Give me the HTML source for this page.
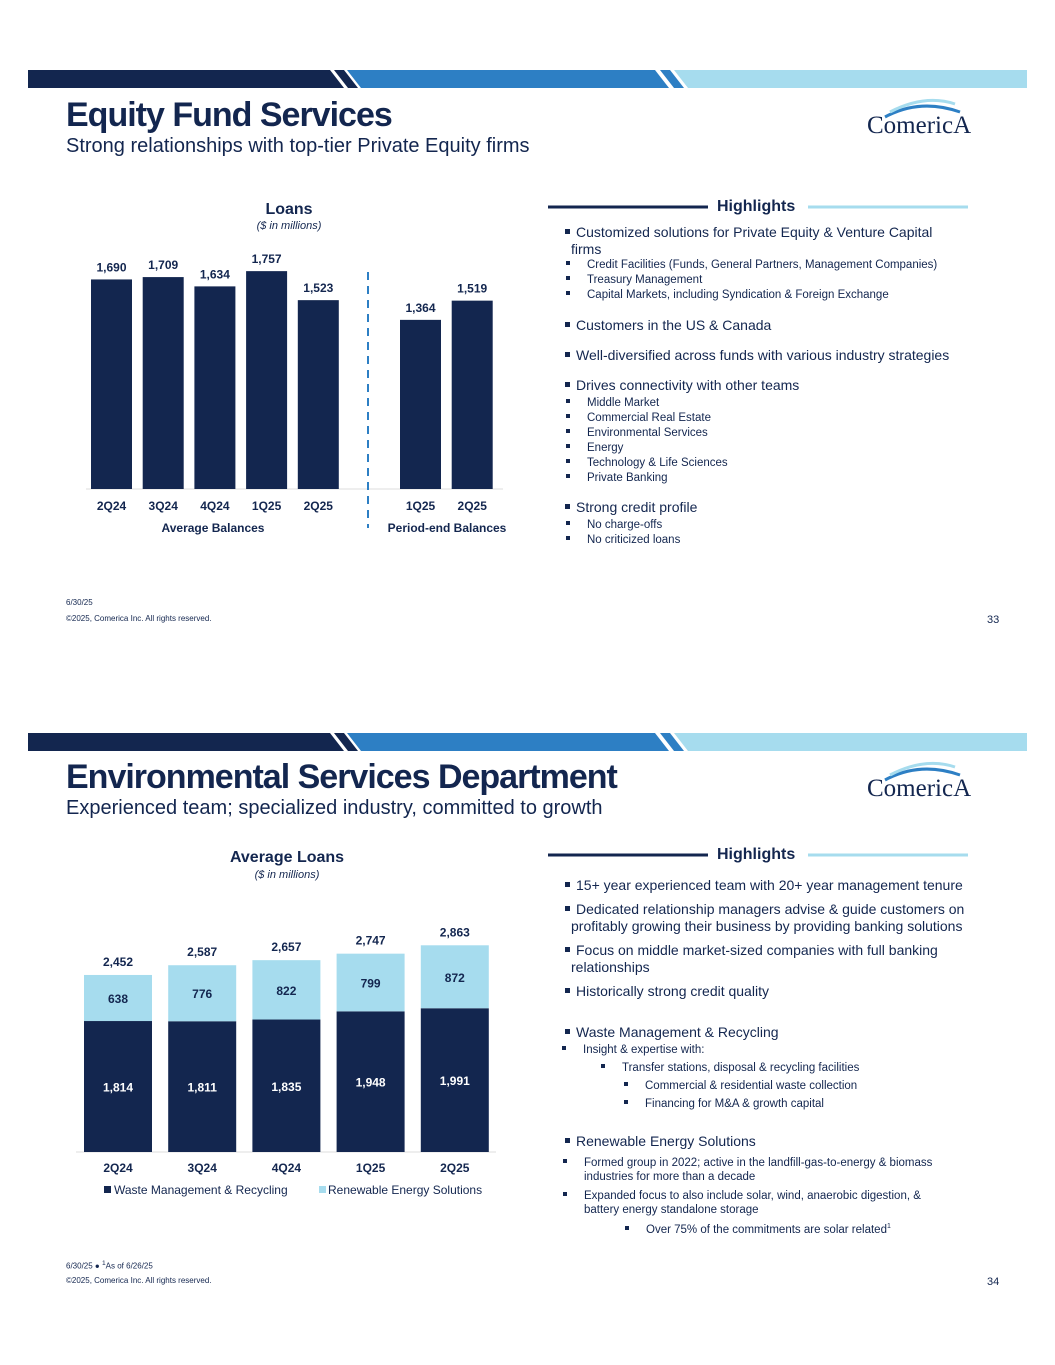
<!DOCTYPE html>
<html><head><meta charset="utf-8"><style>
body{margin:0;width:1055px;height:1365px;background:#fff;position:relative;font-family:"Liberation Sans",sans-serif;color:#13264f;overflow:hidden}
.a{position:absolute;white-space:nowrap}
.t{font-weight:bold;font-size:34px;letter-spacing:-1px;color:#13264f}
.st{font-size:20px;color:#13264f}
.hl{font-size:16px;font-weight:bold}
.b1{font-size:14px;color:#13264f}
.b2{font-size:11.5px;color:#13264f}
.sq{display:inline-block;width:5px;height:5px;background:#13264f;margin-right:6px;vertical-align:middle;position:relative;top:-2px}
.s2{display:inline-block;width:4px;height:4px;background:#13264f;margin-right:17px;vertical-align:middle;position:relative;top:-2px}
.foot{font-size:8px;color:#13264f}
.logo{font-family:"Liberation Serif",serif;font-size:25px;color:#13264f}
</style></head><body>
<svg class="a" style="left:0;top:0" width="1055" height="1365">
 <g>
  <polygon points="28,70 330,70 344,88 28,88" fill="#13264f"/>
  <polygon points="334,70 344,70 358,88 348,88" fill="#13264f"/>
  <polygon points="347,70 655,70 669,88 361,88" fill="#2d7fc4"/>
  <polygon points="660,70 670,70 684,88 674,88" fill="#2d7fc4"/>
  <polygon points="674,70 1027,70 1027,88 688,88" fill="#a6dcee"/>
 </g>
 <g>
  <polygon points="28,733 330,733 344,751 28,751" fill="#13264f"/>
  <polygon points="334,733 344,733 358,751 348,751" fill="#13264f"/>
  <polygon points="347,733 655,733 669,751 361,751" fill="#2d7fc4"/>
  <polygon points="660,733 670,733 684,751 674,751" fill="#2d7fc4"/>
  <polygon points="674,733 1027,733 1027,751 688,751" fill="#a6dcee"/>
 </g>
 <g fill="none">
  <path d="M885,117 Q920,98 960,112" stroke="#2d7fc4" stroke-width="3"/>
  <path d="M890,112 Q925,94 955,104" stroke="#a6dcee" stroke-width="3"/>
  <path d="M885,780 Q920,761 960,775" stroke="#2d7fc4" stroke-width="3"/>
  <path d="M890,775 Q925,757 955,767" stroke="#a6dcee" stroke-width="3"/>
 </g>
 <line x1="548" y1="207" x2="708" y2="207" stroke="#13264f" stroke-width="3"/>
 <line x1="808" y1="207" x2="968" y2="207" stroke="#a6dcee" stroke-width="3"/>
 <line x1="548" y1="855" x2="708" y2="855" stroke="#13264f" stroke-width="3"/>
 <line x1="808" y1="855" x2="968" y2="855" stroke="#a6dcee" stroke-width="3"/>
 <g id="chart1"></g>
 <g id="chart2"></g>
</svg>

<div class="a t" style="left:66px;top:96px">Equity Fund Services</div>
<div class="a st" style="left:66px;top:135px">Strong relationships with top-tier Private Equity firms</div>
<div class="a logo" style="left:867px;top:112px">ComericA</div>
<div class="a hl" style="left:717px;top:198px">Highlights</div>

<div class="a b1" style="left:565px;top:224px;line-height:17px">
<div><span class="sq"></span>Customized solutions for Private Equity &amp; Venture Capital</div>
<div style="padding-left:6px">firms</div>
<div class="b2" style="padding-left:1px;line-height:15px"><span class="s2"></span>Credit Facilities (Funds, General Partners, Management Companies)<br><span class="s2"></span>Treasury Management<br><span class="s2"></span>Capital Markets, including Syndication &amp; Foreign Exchange</div>
<div style="margin-top:14px"><span class="sq"></span>Customers in the US &amp; Canada</div>
<div style="margin-top:13px"><span class="sq"></span>Well-diversified across funds with various industry strategies</div>
<div style="margin-top:13px"><span class="sq"></span>Drives connectivity with other teams</div>
<div class="b2" style="padding-left:1px;line-height:15px;margin-top:2px"><span class="s2"></span>Middle Market<br><span class="s2"></span>Commercial Real Estate<br><span class="s2"></span>Environmental Services<br><span class="s2"></span>Energy<br><span class="s2"></span>Technology &amp; Life Sciences<br><span class="s2"></span>Private Banking</div>
<div style="margin-top:13px"><span class="sq"></span>Strong credit profile</div>
<div class="b2" style="padding-left:1px;line-height:15px;margin-top:2px"><span class="s2"></span>No charge-offs<br><span class="s2"></span>No criticized loans</div>
</div>

<div class="a foot" style="left:66px;top:598px">6/30/25</div>
<div class="a foot" style="left:66px;top:614px">©2025, Comerica Inc. All rights reserved.</div>
<div class="a" style="left:987px;top:614px;font-size:11px">33</div>

<div class="a t" style="left:66px;top:758px">Environmental Services Department</div>
<div class="a st" style="left:66px;top:797px">Experienced team; specialized industry, committed to growth</div>
<div class="a logo" style="left:867px;top:775px">ComericA</div>
<div class="a hl" style="left:717px;top:846px">Highlights</div>

<div class="a b1" style="left:565px;top:877px;line-height:17px">
<div><span class="sq"></span>15+ year experienced team with 20+ year management tenure</div>
<div style="margin-top:7px"><span class="sq"></span>Dedicated relationship managers advise &amp; guide customers on</div>
<div style="padding-left:6px">profitably growing their business by providing banking solutions</div>
<div style="margin-top:7px"><span class="sq"></span>Focus on middle market-sized companies with full banking</div>
<div style="padding-left:6px">relationships</div>
<div style="margin-top:7px"><span class="sq"></span>Historically strong credit quality</div>
<div style="margin-top:24px"><span class="sq"></span>Waste Management &amp; Recycling</div>
<div class="b2" style="line-height:18px;margin-left:-3px"><span><span class="s2"></span>Insight &amp; expertise with:</span><br><span style="padding-left:39px"><span class="s2"></span>Transfer stations, disposal &amp; recycling facilities</span><br><span style="padding-left:62px"><span class="s2"></span>Commercial &amp; residential waste collection</span><br><span style="padding-left:62px"><span class="s2"></span>Financing for M&amp;A &amp; growth capital</span></div>
<div style="margin-top:20px"><span class="sq"></span>Renewable Energy Solutions</div>
<div class="b2" style="line-height:14px;margin-top:6px;margin-left:-2px"><span class="s2"></span>Formed group in 2022; active in the landfill-gas-to-energy &amp; biomass<br><span style="padding-left:21px">industries for more than a decade</span></div>
<div class="b2" style="line-height:14px;margin-top:5px;margin-left:-2px"><span class="s2"></span>Expanded focus to also include solar, wind, anaerobic digestion, &amp;<br><span style="padding-left:21px">battery energy standalone storage</span><br><span style="padding-left:62px;line-height:20px"><span class="s2"></span>Over 75% of the commitments are solar related<sup style="font-size:7px">1</sup></span></div>
</div>

<div class="a foot" style="left:66px;top:1260px">6/30/25 ● <sup>1</sup>As of 6/26/25</div>
<div class="a foot" style="left:66px;top:1276px">©2025, Comerica Inc. All rights reserved.</div>
<div class="a" style="left:987px;top:1276px;font-size:11px">34</div>

<script>
const loanCats=["2Q24","3Q24","4Q24","1Q25","2Q25","1Q25","2Q25"];
const loanVals=[1690,1709,1634,1757,1523,1364,1519];
const envCats=["2Q24","3Q24","4Q24","1Q25","2Q25"];
const wasteVals=[1814,1811,1835,1948,1991];
const renewVals=[638,776,822,799,872];
const NS="http://www.w3.org/2000/svg";
function mk(p,tag,attrs,txt){const e=document.createElementNS(NS,tag);for(const k in attrs)e.setAttribute(k,attrs[k]);if(txt!==undefined)e.textContent=txt;p.appendChild(e);return e;}
const fmt=v=>v.toLocaleString("en-US");
const FF="Liberation Sans, sans-serif";
const c1=document.getElementById("chart1");
const y1=v=>489-v*0.124;
const x1=i=>i<5?91+i*51.7:400+(i-5)*51.7;
mk(c1,"text",{x:289,y:214,"text-anchor":"middle","font-size":16,"font-weight":"bold",fill:"#13264f","font-family":FF},"Loans");
mk(c1,"text",{x:289,y:229,"text-anchor":"middle","font-size":11,"font-style":"italic",fill:"#13264f","font-family":FF},"($ in millions)");
mk(c1,"line",{x1:86,y1:489,x2:503,y2:489,stroke:"#ddd"});
mk(c1,"line",{x1:368,y1:272,x2:368,y2:528,stroke:"#2d7fc4","stroke-width":2,"stroke-dasharray":"8,6"});
loanVals.forEach((v,i)=>{
 const r=mk(c1,"rect",{x:x1(i),y:y1(v),width:41,height:489-y1(v),fill:"#13264f"});
 
 
 mk(c1,"text",{x:x1(i)+20.5,y:y1(v)-8,"text-anchor":"middle","font-size":12,"font-weight":"bold",fill:"#13264f","font-family":FF},fmt(v));
 mk(c1,"text",{x:x1(i)+20.5,y:510,"text-anchor":"middle","font-size":12,"font-weight":"bold",fill:"#13264f","font-family":FF},loanCats[i]);
});
mk(c1,"text",{x:213,y:532,"text-anchor":"middle","font-size":12,"font-weight":"bold",fill:"#13264f","font-family":FF},"Average Balances");
mk(c1,"text",{x:447,y:532,"text-anchor":"middle","font-size":12,"font-weight":"bold",fill:"#13264f","font-family":FF},"Period-end Balances");
const c2=document.getElementById("chart2");
const s2=0.0722,b2=1152;
const x2=i=>84+i*84.2;
mk(c2,"text",{x:287,y:862,"text-anchor":"middle","font-size":16,"font-weight":"bold",fill:"#13264f","font-family":FF},"Average Loans");
mk(c2,"text",{x:287,y:878,"text-anchor":"middle","font-size":11,"font-style":"italic",fill:"#13264f","font-family":FF},"($ in millions)");
mk(c2,"line",{x1:76,y1:b2,x2:496,y2:b2,stroke:"#ddd"});
envCats.forEach((c,i)=>{
 const hw=wasteVals[i]*s2,hr=renewVals[i]*s2,cx=x2(i)+34;
 const r1=mk(c2,"rect",{x:x2(i),y:b2-hw,width:68,height:hw,fill:"#13264f"});
 
 
 const r2=mk(c2,"rect",{x:x2(i),y:b2-hw-hr,width:68,height:hr,fill:"#a6dcee"});
 
 
 mk(c2,"text",{x:cx,y:b2-hw/2+5,"text-anchor":"middle","font-size":12,"font-weight":"bold",fill:"#fff","font-family":FF},fmt(wasteVals[i]));
 mk(c2,"text",{x:cx,y:b2-hw-hr/2+5,"text-anchor":"middle","font-size":12,"font-weight":"bold",fill:"#13264f","font-family":FF},fmt(renewVals[i]));
 mk(c2,"text",{x:cx,y:b2-hw-hr-9,"text-anchor":"middle","font-size":12,"font-weight":"bold",fill:"#13264f","font-family":FF},fmt(wasteVals[i]+renewVals[i]));
 mk(c2,"text",{x:cx,y:1172,"text-anchor":"middle","font-size":12,"font-weight":"bold",fill:"#13264f","font-family":FF},c);
});
mk(c2,"rect",{x:104,y:1186,width:7,height:7,fill:"#13264f"});
mk(c2,"text",{x:114,y:1194,"font-size":12,fill:"#13264f","font-family":FF},"Waste Management & Recycling");
mk(c2,"rect",{x:319,y:1186,width:7,height:7,fill:"#a6dcee"});
mk(c2,"text",{x:328,y:1194,"font-size":12,fill:"#13264f","font-family":FF},"Renewable Energy Solutions");
</script>
</body></html>
